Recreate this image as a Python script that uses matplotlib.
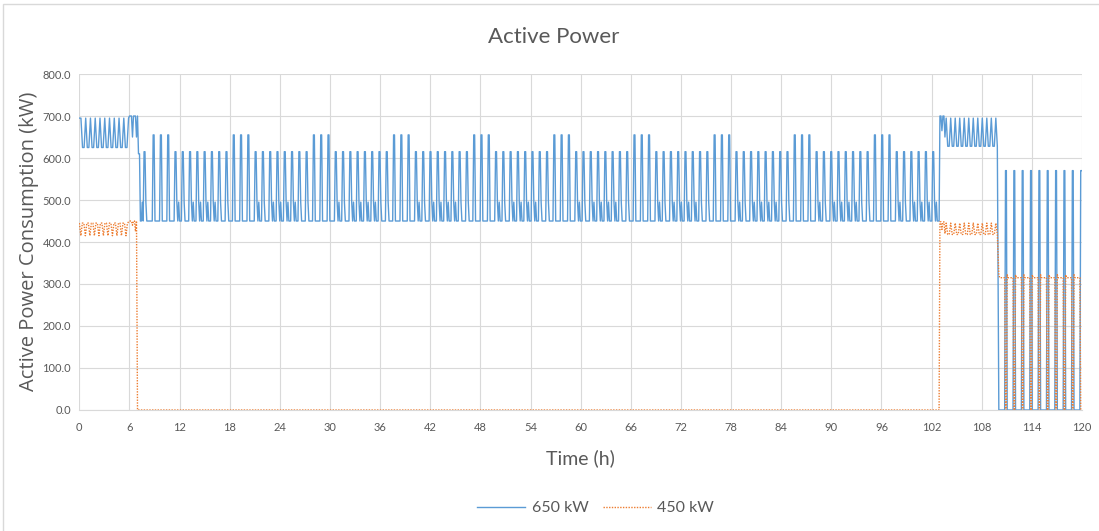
import numpy as np
from matplotlib import pyplot as plt
from matplotlib.patches import Rectangle

# Lato is the narrowest of the installed families, close to the squeezed Calibri look
plt.rcParams["font.family"] = ["Lato", "DejaVu Sans"]

# ---- data (kW), one list of samples per block ----
# each block: start hour, sample step (h), samples

# 650 kW unit
blue_a1 = [695] + [695, 625, 625] * 10 + [695]
blue_a2 = [700, 700, 700, 650, 700, 700, 700, 650, 700, 610]
blue_b_lead = [610, 450, 450, 495, 450, 615, 615, 495, 450, 450, 450, 450, 450, 450]
cycle_655 = [450, 655, 655, 450, 450, 450, 450, 450]
cycle_615 = [450, 615, 615, 495, 450, 450, 450, 450]
cycle_615_blip = [450, 615, 615, 495, 450, 495, 450, 450]
day_pattern = [cycle_655, cycle_655, cycle_655, cycle_615_blip, cycle_615,
               cycle_615_blip, cycle_615_blip, cycle_615_blip, cycle_615_blip,
               cycle_615, cycle_615]
blue_c1 = [700, 700, 665, 700, 700, 650]
blue_c2 = [695, 628, 628] * 11 + [695, 628]
blue_d = [0, 0, 0, 0, 0, 0, 0, 0, 570, 570] * 10

# 450 kW unit
orange_a1 = [445, 415, 445] * 11
orange_a2 = [450, 450, 450, 440, 450, 450, 425, 450, 0]
orange_b = [0, 0]
orange_c1 = [448, 448, 430, 448, 448, 420]
orange_c2 = [445, 418, 418] * 11 + [445, 418]
orange_d = [322, 315, 315, 315, 315, 315, 315, 315, 0, 0] * 10

blue_b = [v for c in day_pattern for v in c] * 10
blue_b = blue_b_lead + blue_b[:865]

blue_blocks = [(0.0, 0.19, blue_a1), (6.0, 0.12, blue_a2), (7.2, 0.109, blue_b),
               (103.0, 0.12, blue_c1), (103.75, 0.18, blue_c2), (110.05, 0.1, blue_d)]
orange_blocks = [(0.0, 0.18, orange_a1), (6.0, 0.12, orange_a2), (7.1, 95.8, orange_b),
                 (103.0, 0.12, orange_c1), (103.75, 0.18, orange_c2), (110.05, 0.1, orange_d)]


def build(blocks):
    t, y = [], []
    for start, step, vals in blocks:
        t.extend(start + step * np.arange(len(vals)))
        y.extend(vals)
    return np.array(t), np.array(y)


t_650, p_650 = build(blue_blocks)
t_450, p_450 = build(orange_blocks)

# ---- plotting ----
fig = plt.figure(figsize=(10.99, 5.31), dpi=100)
ax = fig.add_axes([0.0722, 0.2279, 0.9123, 0.6327])

ax.plot(t_650, p_650, color="#5B9BD5", lw=1.0, label="650 kW")
ax.plot(t_450, p_450, color="#ED7D31", lw=1.0, ls=(0, (1, 1)), label="450 kW")

ax.set_xlim(0, 120)
ax.set_ylim(0, 800)
ax.set_xticks(np.arange(0, 121, 6))
ax.set_yticks(np.arange(0, 801, 100))
ax.set_yticklabels([f"{v:.1f}" for v in np.arange(0, 801, 100)])
ax.tick_params(length=0, labelsize=8, colors="#595959")
ax.tick_params(axis="y", pad=6)
ax.tick_params(axis="x", pad=9)
ax.grid(color="#D9D9D9", lw=0.8)
ax.set_axisbelow(True)
for s in ["top", "right", "left"]:
    ax.spines[s].set_visible(False)
ax.spines["bottom"].set_color("#D9D9D9")

fig.text(0.504, 0.93, "Active Power", ha="center", va="center", fontsize=16, color="#595959")
fig.text(0.528, 0.137, "Time (h)", ha="center", va="center", fontsize=14, color="#595959")
fig.text(0.026, 0.545, "Active Power Consumption (kW)", rotation=90, ha="center", va="center",
         fontsize=14.5, color="#595959", family=["Open Sans", "DejaVu Sans"])

fig.legend(loc="center", bbox_to_anchor=(0.542, 0.043), ncol=2, frameon=False,
           fontsize=11.5, handlelength=3.0, handletextpad=0.4, columnspacing=0.9,
           labelcolor="#595959")

# chart border
fig.add_artist(Rectangle((0.003, -0.02), 1.2, 1.012, transform=fig.transFigure,
                         fill=False, edgecolor="#D9D9D9", lw=1.0))

fig.savefig("out.png", dpi=100)
